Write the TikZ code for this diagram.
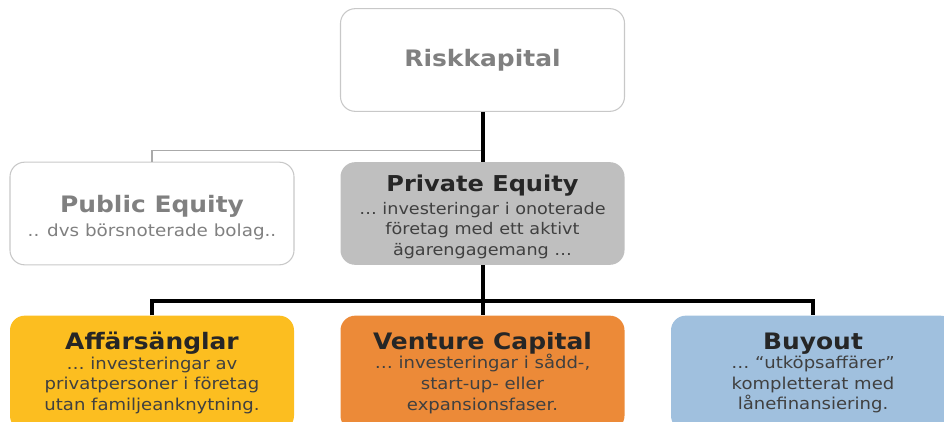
\documentclass[tikz,border=0pt]{standalone}
\usepackage{fontspec}
\setmainfont{DejaVu Sans}[FakeStretch=1.1]
\usetikzlibrary{positioning, calc}

% box colours
\definecolor{boxline}{RGB}{200,200,200}
\definecolor{greytext}{RGB}{128,128,128}
\definecolor{darktext}{RGB}{38,38,38}
\definecolor{subtext}{RGB}{64,64,64}
\definecolor{pegrey}{RGB}{191,191,191}
\definecolor{angelfill}{RGB}{252,190,32}
\definecolor{vcfill}{RGB}{236,138,56}
\definecolor{buyfill}{RGB}{160,192,222}

\newcommand{\bighead}{\bfseries\fontsize{17}{20}\selectfont}
\newcommand{\midhead}{\bfseries\fontsize{16.4}{18}\selectfont\color{darktext}}
\newcommand{\leafhead}{\bfseries\fontsize{17}{20}\selectfont\color{darktext}}
\newcommand{\midsub}{\fontsize{12}{15.4}\selectfont}
\newcommand{\leafsub}{\fontsize{12.3}{15.4}\selectfont}

\tikzset{
  box/.style={rounded corners=11pt, minimum width=213pt, minimum height=77pt,
    align=center, inner sep=2pt},
  lightbox/.style={box, draw=boxline, line width=0.8pt, fill=white, text=greytext},
  leafbox/.style={box, minimum height=86pt, text=subtext, font=\leafsub},
  trunk/.style={line width=3pt, black},
  branch/.style={line width=1.1pt, boxline!85!black}
}

\begin{document}
\begin{tikzpicture}[x=0.75pt, y=-0.75pt]
  \useasboundingbox (0,0) rectangle (944,421);
  \clip (0,0) rectangle (944,421);

  % top level
  \node[lightbox, font=\bighead] (risk) at (482.5,60) {Riskkapital};

  % second level (struts push the text a little lower in the box)
  \node[lightbox, font=\fontsize{12.5}{15}\selectfont] (public) at (152,213.5)
    {{\bighead\rule{0pt}{19pt}Public Equity}\\[3pt] .. dvs börsnoterade bolag..};
  \node[box, fill=pegrey, text=subtext, font=\midsub] (private) at (482.5,213.5)
    {{\midhead\rule{0pt}{17pt}Private Equity}\\[2pt]
     … investeringar i onoterade\\
     företag med ett aktivt\\ ägarengagemang …};

  % third level (runs past the lower edge)
  \node[leafbox, fill=angelfill] (angel) at (152,373)
    {{\leafhead Affärsänglar}\\[-1pt]
     … investeringar av\\
     privatpersoner i företag\\ utan familjeanknytning.};
  \node[leafbox, fill=vcfill] (venture) at (482.5,373)
    {{\leafhead Venture Capital}\\[-1pt]
     … investeringar i sådd-,\\
     start-up- eller\\ expansionsfaser.};
  \node[leafbox, fill=buyfill] (buyout) at (813,373)
    {{\leafhead Buyout}\\[-1pt]
     … “utköpsaffärer”\\
     kompletterat med\\ lånefinansiering.};

  % connectors
  \draw[branch] (public.north) |- ($(risk.south)!0.77!(private.north)$);
  \draw[trunk] (risk.south) -- (private.north);
  \draw[trunk] (private.south) -- (venture.north);
  \draw[trunk] (angel.north) |- ($(private.south)!0.72!(venture.north)$)
    -| (buyout.north);
\end{tikzpicture}
\end{document}
